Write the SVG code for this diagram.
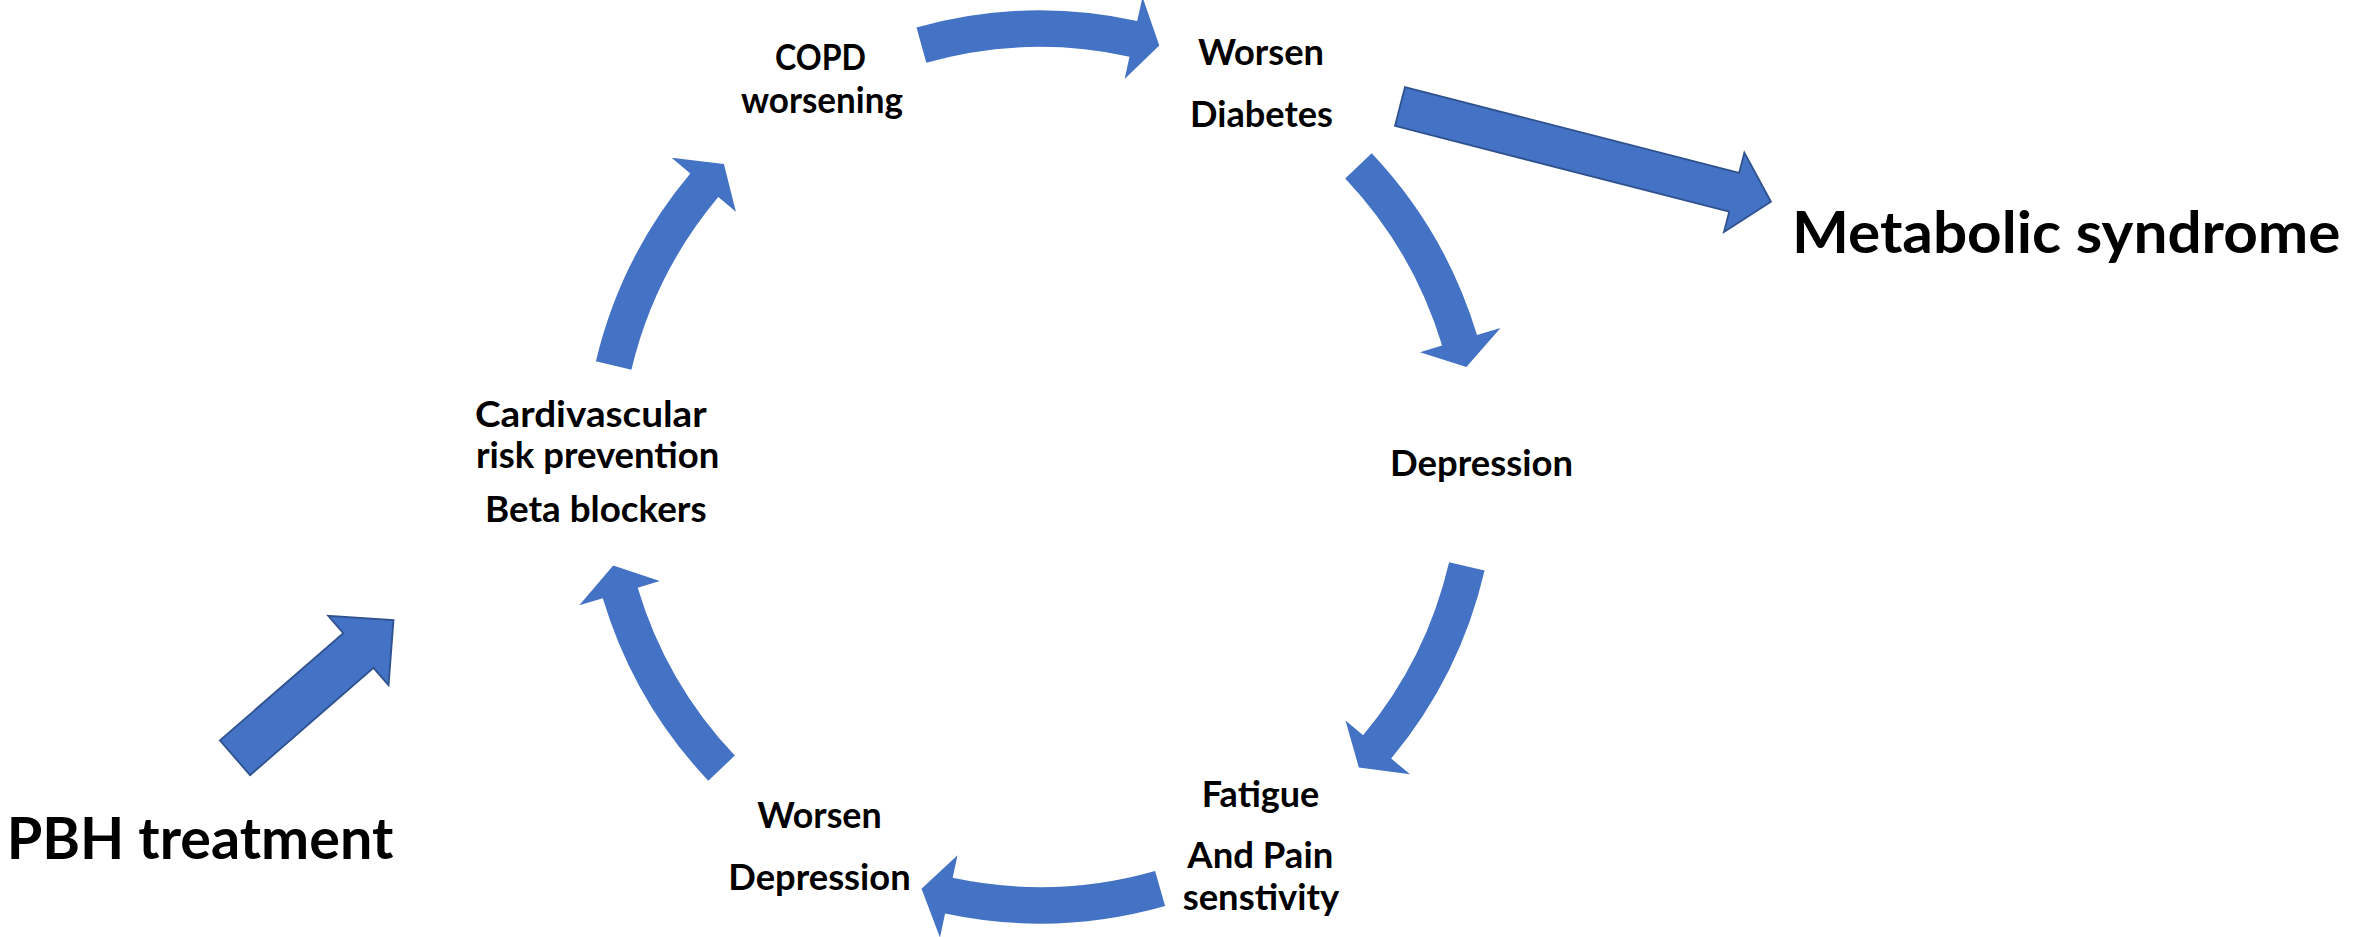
<svg xmlns="http://www.w3.org/2000/svg" width="2356" height="937" viewBox="0 0 2356 937">
  <style>
    .bg { fill: #ffffff; }
    .arc { fill: #4472C4; stroke: none; }
    .block { fill: #4472C4; stroke: #2F528F; stroke-width: 1.8; stroke-linejoin: miter; }
    .lbl { font-family: Lato, "Open Sans", "Liberation Sans", sans-serif; font-weight: 700; font-size: 36px; fill: #000000; }
    .big { font-family: Lato, "Open Sans", "Liberation Sans", sans-serif; font-weight: 700; font-size: 57px; fill: #000000; }
  </style>

  <rect class="bg" x="0" y="0" width="2356" height="937"/>

  <!-- curved cycle arrows around centre (1040,467), outer r 456.5, inner r 420 -->
  <g id="connectors">
    <path id="copd-to-diabetes" class="arc" d="M916.5,27.5 A456.5,456.5 0 0 1 1137.2,21.0 L1142.5,-2.9 L1159.3,45.6 L1124.6,79.1 L1129.5,56.7 A420,420 0 0 0 926.3,62.7 Z"/>
    <path id="diabetes-to-depression" class="arc" d="M1371.7,153.3 A456.5,456.5 0 0 1 1477.0,335.1 L1500.5,328.0 L1466.4,367.0 L1420.0,352.3 L1442.1,345.6 A420,420 0 0 0 1345.2,178.4 Z"/>
    <path id="depression-to-fatigue" class="arc" d="M1484.6,570.5 A456.5,456.5 0 0 1 1391.2,758.6 L1410.1,774.3 L1358.8,767.4 L1345.5,720.6 L1363.1,735.3 A420,420 0 0 0 1449.1,562.2 Z"/>
    <path id="fatigue-to-worsen-depression" class="arc" d="M1165.1,906.0 A456.5,456.5 0 0 1 945.1,913.5 L940.0,937.5 L921.5,888.7 L957.5,855.3 L952.7,877.8 A420,420 0 0 0 1155.1,870.9 Z"/>
    <path id="worsen-depression-to-cardio" class="arc" d="M708.3,780.7 A456.5,456.5 0 0 1 602.8,598.2 L579.3,605.2 L613.2,565.5 L659.8,581.1 L637.7,587.7 A420,420 0 0 0 734.8,755.6 Z"/>
    <path id="cardio-to-copd" class="arc" d="M595.9,361.2 A456.5,456.5 0 0 1 690.3,173.6 L671.6,157.8 L723.9,163.9 L735.9,211.8 L718.3,197.0 A420,420 0 0 0 631.4,369.7 Z"/>

    <!-- straight block arrows -->
    <path id="diabetes-to-metabolic" class="block" d="M0,-20 L345,-20 L345,-41 L383,0 L345,41 L345,20 L0,20 Z" transform="translate(1400,106.5) rotate(14.4)"/>
    <path id="pbh-to-cardio" class="block" d="M0,-23 L163.5,-23 L163.5,-46 L210,0 L163.5,46 L163.5,23 L0,23 Z" transform="translate(235,757.8) rotate(-41)"/>
  </g>

  <g id="node-copd">
    <text class="lbl" x="775" y="70" textLength="91" lengthAdjust="spacingAndGlyphs">COPD</text>
    <text class="lbl" x="741" y="112.5" textLength="162" lengthAdjust="spacingAndGlyphs">worsening</text>
  </g>

  <g id="node-diabetes">
    <text class="lbl" x="1198" y="65" textLength="126" lengthAdjust="spacingAndGlyphs">Worsen</text>
    <text class="lbl" x="1190" y="126.7" textLength="143" lengthAdjust="spacingAndGlyphs">Diabetes</text>
  </g>

  <g id="node-depression">
    <text class="lbl" x="1390" y="476" textLength="183" lengthAdjust="spacingAndGlyphs">Depression</text>
  </g>

  <g id="node-fatigue">
    <text class="lbl" x="1201.7" y="806.7" textLength="117.6" lengthAdjust="spacingAndGlyphs">Fatigue</text>
    <text class="lbl" x="1187.3" y="868.3" textLength="146" lengthAdjust="spacingAndGlyphs">And Pain</text>
    <text class="lbl" x="1182.7" y="910" textLength="156.6" lengthAdjust="spacingAndGlyphs">senstivity</text>
  </g>

  <g id="node-worsen-depression">
    <text class="lbl" x="757.3" y="828.3" textLength="124.4" lengthAdjust="spacingAndGlyphs">Worsen</text>
    <text class="lbl" x="728.3" y="890" textLength="182.4" lengthAdjust="spacingAndGlyphs">Depression</text>
  </g>

  <g id="node-cardio">
    <text class="lbl" x="475" y="426.7" textLength="231.7" lengthAdjust="spacingAndGlyphs">Cardivascular</text>
    <text class="lbl" x="476" y="468" textLength="243.3" lengthAdjust="spacingAndGlyphs">risk prevention</text>
    <text class="lbl" x="485" y="521.7" textLength="221.7" lengthAdjust="spacingAndGlyphs">Beta blockers</text>
  </g>

  <g id="node-metabolic">
    <text class="big" x="1792" y="253" textLength="548.5" lengthAdjust="spacingAndGlyphs">Metabolic syndrome</text>
  </g>

  <g id="node-pbh">
    <text class="big" x="6.7" y="859.3" textLength="386.6" lengthAdjust="spacingAndGlyphs">PBH treatment</text>
  </g>
</svg>
